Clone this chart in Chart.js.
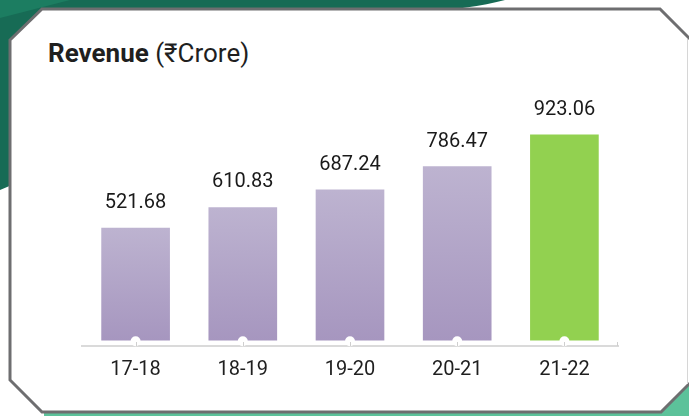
<!DOCTYPE html>
<html>
<head>
<meta charset="utf-8">
<script src="https://cdn.jsdelivr.net/npm/chart.js@4"></script>
<style>
  html, body { margin: 0; padding: 0; background: #fff; }
  #wrap { position: relative; width: 689px; height: 416px; overflow: hidden; }
  #bg { position: absolute; left: 0; top: 0; }
  #title {
    position: absolute; left: 48px; top: 40px;
    font: 26px/26px Roboto, "Noto Sans", sans-serif; color: #1f1f1f;
    white-space: nowrap;
  }
  #title b { font-weight: 700; }
  #chart { position: absolute; left: 0; top: 0; }
</style>
</head>
<body>
<div id="wrap">
  <svg id="bg" width="689" height="416">
    <!-- green shapes behind the card -->
    <path d="M0,0 L505,0 Q470,9 420,12 L0,190 Z" fill="#176b55"/>
    <path d="M0,0 L70,0 L0,18 Z" fill="#1c7d61"/>
    <path d="M44,405 L689,405 L689,416 L44,416 Z" fill="#5cc29a"/>
    <path d="M640,416 L689,367 L689,416 Z" fill="#5cc29a"/>
    <!-- card -->
    <polygon points="10,40 42,9 660,9 692,41 692,381 661,412 42,412 10,380"
             fill="#fff" stroke="#6e6e70" stroke-width="3"/>
    <line x1="687.5" y1="39" x2="687.5" y2="384" stroke="#d6d6d6" stroke-width="1"/>
  </svg>
  <div id="title"><b>Revenue</b> (₹Crore)</div>
  <canvas id="chart" width="689" height="416"></canvas>
</div>
<script>
const years = ["17-18", "18-19", "19-20", "20-21", "21-22"];
const revenue = [521.68, 610.83, 687.24, 786.47, 923.06];

const purpleTop = "#bdb3d0";
const purpleBottom = "#a696bf";
const green = "#92d150";

// per-bar gradient, light at the top
function barColor(context) {
  const chart = context.chart;
  if (context.dataIndex === years.length - 1) return green;
  const area = chart.chartArea;
  if (!area || !chart.scales.y) return purpleBottom;
  const top = chart.scales.y.getPixelForValue(context.raw);
  const bottom = chart.scales.y.getPixelForValue(40);
  const g = chart.ctx.createLinearGradient(0, top, 0, bottom);
  g.addColorStop(0, purpleTop);
  g.addColorStop(1, purpleBottom);
  return g;
}

// value labels, small notches and tick marks
const barExtras = {
  id: "barExtras",
  afterDraw(chart) {
    const ctx = chart.ctx;
    const meta = chart.getDatasetMeta(0);
    const xs = chart.scales.x;
    ctx.save();
    meta.data.forEach((bar, i) => {
      ctx.fillStyle = "#fff";
      ctx.beginPath();
      ctx.arc(bar.x, bar.base + 1, 5, 0, Math.PI * 2);
      ctx.fill();

      ctx.fillStyle = "#1a1a1a";
      ctx.font = "20px Roboto, 'Noto Sans', sans-serif";
      ctx.textAlign = "center";
      ctx.textBaseline = "alphabetic";
      ctx.fillText(revenue[i].toFixed(2), bar.x, bar.y - 20);
    });
    ctx.strokeStyle = "#cfcfcf";
    ctx.lineWidth = 1;
    const ticks = meta.data.map((b) => b.x).concat([xs.right - 1]);
    ticks.forEach((x) => {
      ctx.beginPath();
      ctx.moveTo(Math.round(x) + 0.5, xs.top - 4);
      ctx.lineTo(Math.round(x) + 0.5, xs.top);
      ctx.stroke();
    });
    ctx.restore();
  },
};

new Chart(document.getElementById("chart"), {
  type: "bar",
  plugins: [barExtras],
  data: {
    labels: years,
    datasets: [
      {
        data: revenue,
        base: 40,
        backgroundColor: barColor,
        borderWidth: 0,
        barThickness: 68,
      },
    ],
  },
  options: {
    responsive: false,
    animation: false,
    layout: { padding: { left: 82, right: 71, top: 117, bottom: 22 } },
    plugins: { legend: { display: false }, tooltip: { enabled: false } },
    scales: {
      x: {
        grid: { display: false, drawTicks: false },
        border: { display: true, color: "#dadada", width: 2 },
        ticks: {
          padding: 12,
          color: "#1f1f1f",
          font: { family: "Roboto, 'Noto Sans', sans-serif", size: 20 },
        },
      },
      y: {
        display: false,
        min: 15,
        max: 1000,
      },
    },
  },
});
</script>
</body>
</html>
